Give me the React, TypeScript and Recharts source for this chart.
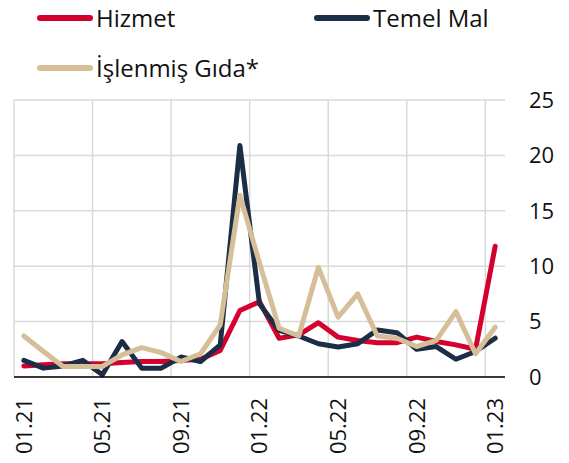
import { LineChart, Line, XAxis, YAxis, CartesianGrid, ReferenceLine, Legend } from 'recharts';

const months = [
  '01.21', '02.21', '03.21', '04.21', '05.21', '06.21', '07.21', '08.21', '09.21', '10.21', '11.21', '12.21',
  '01.22', '02.22', '03.22', '04.22', '05.22', '06.22', '07.22', '08.22', '09.22', '10.22', '11.22', '12.22',
  '01.23',
];
const hizmet = [1.0, 1.1, 1.2, 1.2, 1.2, 1.3, 1.4, 1.4, 1.5, 1.6, 2.4, 6.0, 6.8, 3.5, 3.8, 4.9, 3.6, 3.3, 3.1, 3.1, 3.6, 3.2, 2.9, 2.5, 11.8];
const temelMal = [1.5, 0.8, 1.0, 1.5, 0.2, 3.2, 0.8, 0.8, 1.8, 1.4, 2.9, 20.9, 6.6, 4.2, 3.7, 3.0, 2.7, 3.0, 4.25, 4.0, 2.5, 2.75, 1.6, 2.3, 3.5];
const islenmisGida = [3.7, 2.3, 0.95, 0.95, 0.95, 2.0, 2.65, 2.2, 1.4, 2.1, 4.7, 16.4, 10.3, 4.4, 3.7, 9.9, 5.4, 7.5, 3.7, 3.5, 2.75, 3.3, 5.9, 2.1, 4.5];

const xTicks = [0, 4, 8, 12, 16, 20, 24];
const gridX = [-0.5, 3.5, 7.5, 11.5, 15.5, 19.5, 23.5];
const yTicks = [0, 5, 10, 15, 20, 25];

const series = [
  { key: 'hizmet', name: 'Hizmet', color: '#d6002f' },
  { key: 'temelMal', name: 'Temel Mal', color: '#1b2e45' },
  { key: 'islenmisGida', name: 'İşlenmiş Gıda*', color: '#d6bf98' },
];

const data = months.map((m, i) => ({
  i,
  month: m,
  hizmet: hizmet[i],
  temelMal: temelMal[i],
  islenmisGida: islenmisGida[i],
}));

const FONT = '"Open Sans", sans-serif';

const legendPos = [
  { left: 29, top: -2 },
  { left: 306, top: -2 },
  { left: 29, top: 48 },
];

const ChartLegend = () => (
  <div style={{ position: 'relative', width: 553, height: 84, fontFamily: FONT }}>
    {series.map((s, k) => (
      <div
        key={s.key}
        style={{
          position: 'absolute',
          left: legendPos[k].left,
          top: legendPos[k].top,
          height: 24,
          display: 'flex',
          alignItems: 'center',
          whiteSpace: 'nowrap',
        }}
      >
        <div style={{ width: 56, height: 6, borderRadius: 3, background: s.color }} />
        <span style={{ marginLeft: 3, fontSize: 24, lineHeight: '24px', color: '#111' }}>{s.name}</span>
      </div>
    ))}
  </div>
);

const XTick = ({ x, y, payload }: any) => (
  <text
    transform={`translate(${x},${y}) rotate(-90)`}
    textAnchor="end"
    dy="0.36em"
    fontSize={22}
    fontFamily={FONT}
    fill="#111"
  >
    {months[payload.value]}
  </text>
);

export default function App() {
  return (
    <div style={{ marginBottom: -8 }}>
      <LineChart width={553} height={455} data={data} margin={{ top: 8, right: 0, bottom: 0, left: 6 }}>
        <CartesianGrid vertical={false} stroke="#d9d9d9" strokeWidth={1.5} />
        {gridX.map((gx) => (
          <ReferenceLine key={gx} x={gx} stroke="#d9d9d9" strokeWidth={1.5} />
        ))}
        <XAxis
          dataKey="i"
          type="number"
          domain={[-0.5, 24.5]}
          ticks={xTicks}
          interval={0}
          height={86}
          tickLine={false}
          tickMargin={15}
          axisLine={{ stroke: '#000', strokeWidth: 1.5 }}
          tick={<XTick />}
        />
        <YAxis
          orientation="right"
          domain={[0, 25]}
          ticks={yTicks}
          interval={0}
          width={56}
          axisLine={false}
          tickLine={false}
          tickMargin={18}
          tick={{ fontSize: 22, fontFamily: FONT, fill: '#111', textAnchor: 'start' }}
        />
        <Legend
          verticalAlign="top"
          wrapperStyle={{ top: 0, left: 0 }}
          content={() => <ChartLegend />}
        />
        {series.map((s) => (
          <Line
            key={s.key}
            type="linear"
            dataKey={s.key}
            name={s.name}
            stroke={s.color}
            strokeWidth={5}
            strokeLinejoin="round"
            strokeLinecap="round"
            dot={false}
            activeDot={false}
            isAnimationActive={false}
          />
        ))}
      </LineChart>
    </div>
  );
}
